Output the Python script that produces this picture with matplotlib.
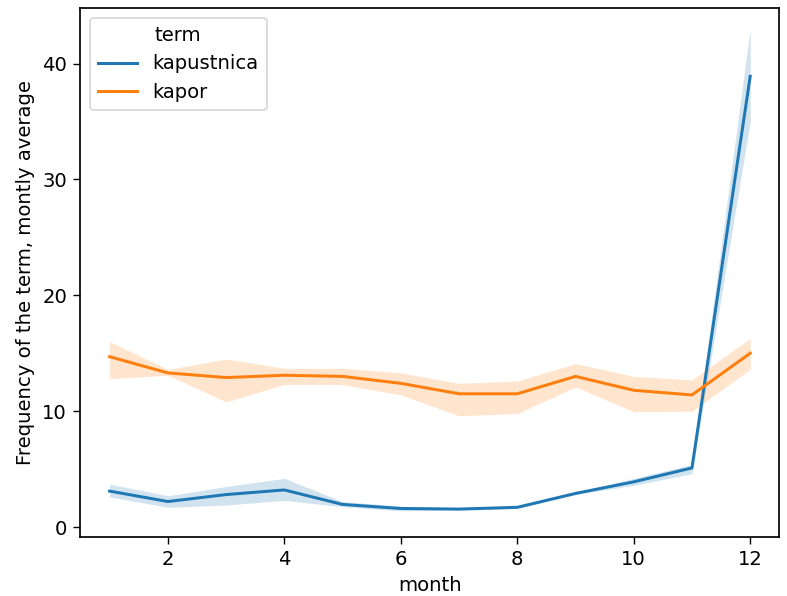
import matplotlib
matplotlib.use("Agg")
from matplotlib import pyplot as plt

# Data
months = [1, 2, 3, 4, 5, 6, 7, 8, 9, 10, 11, 12]

kapustnica = [3.1, 2.2, 2.8, 3.2, 1.95, 1.6, 1.55, 1.7, 2.9, 3.9, 5.1, 38.9]
kapustnica_lo = [2.6, 1.7, 1.9, 2.3, 1.75, 1.4, 1.45, 1.6, 2.8, 3.6, 4.6, 35.0]
kapustnica_hi = [3.7, 2.7, 3.5, 4.2, 2.2, 1.8, 1.6, 1.75, 3.0, 4.2, 5.4, 43.0]

kapor = [14.7, 13.3, 12.9, 13.1, 13.0, 12.4, 11.5, 11.5, 13.0, 11.8, 11.4, 15.0]
kapor_lo = [12.8, 13.1, 10.8, 12.3, 12.3, 11.4, 9.6, 9.8, 12.1, 9.95, 10.0, 13.6]
kapor_hi = [16.0, 13.6, 14.5, 13.7, 13.7, 13.3, 12.4, 12.6, 14.1, 13.0, 12.7, 16.3]

plt.rcParams['font.size'] = 11.5
plt.rcParams['lines.linewidth'] = 1.75
plt.rcParams['axes.linewidth'] = 1.0
plt.rcParams['xtick.major.size'] = 4
plt.rcParams['ytick.major.size'] = 4

fig = plt.figure(figsize=(6.4, 4.846), dpi=123)
ax = fig.add_axes([0.1015, 0.099, 0.8885, 0.8876])

# Linjene med konfidensband
ax.plot(months, kapustnica, color='tab:blue', label='kapustnica')
ax.fill_between(months, kapustnica_lo, kapustnica_hi, color='tab:blue', alpha=0.2, linewidth=0)
ax.plot(months, kapor, color='tab:orange', label='kapor')
ax.fill_between(months, kapor_lo, kapor_hi, color='tab:orange', alpha=0.2, linewidth=0)

ax.set_xlim(0.49, 12.5)
ax.set_ylim(-0.86, 44.8)
ax.set_xticks([2, 4, 6, 8, 10, 12])
ax.set_yticks([0, 10, 20, 30, 40])

ax.set_xlabel('month')
ax.set_ylabel('Frequency of the term, montly average')
ax.legend(title='term', loc='upper left', title_fontsize=11.5)

plt.savefig('out.png')
